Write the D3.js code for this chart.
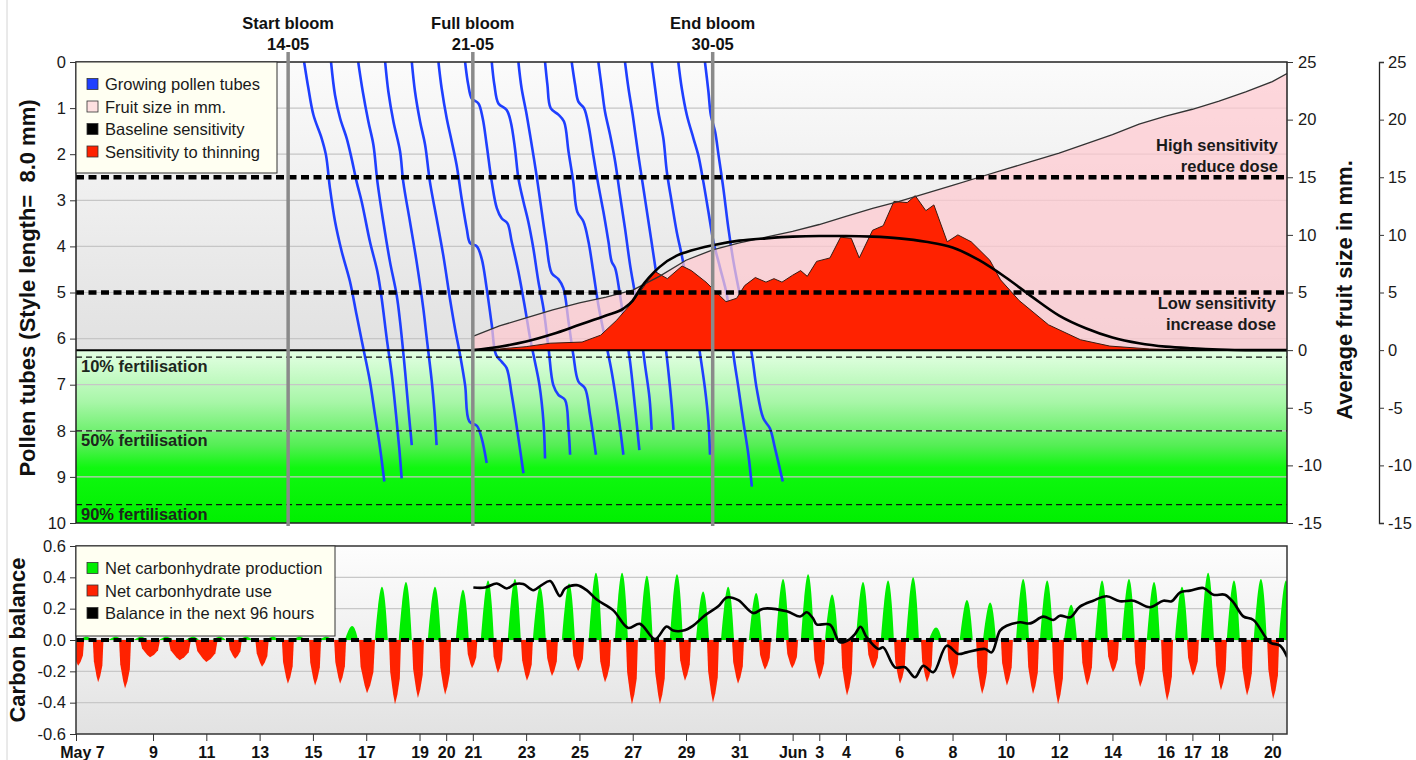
<!DOCTYPE html>
<html>
<head>
<meta charset="utf-8">
<script src="https://cdn.jsdelivr.net/npm/d3@7"></script>
<style>
  body { margin: 0; background: #fff; }
  svg { font-family: "Liberation Sans", Arial, sans-serif; }
</style>
</head>
<body>
<svg id="chart" width="1416" height="760"></svg>
<script>
// ---- data (days counted from May 0, June days continue at 32, 33 ...) ----
const xTickDays = [6.11, 9, 11, 13, 15, 17, 19, 20, 21, 23, 25, 27, 29, 31, 33, 34, 35, 37, 39, 41, 43, 45, 47, 48, 49, 51];
const xTickLabels = ["May 7", "9", "11", "13", "15", "17", "19", "20", "21", "23", "25", "27", "29", "31", "Jun", "3", "4", "6", "8", "10", "12", "14", "16", "17", "18", "20"];

const depthTicks = [0, 1, 2, 3, 4, 5, 6, 7, 8, 9, 10];
const fruitTicks = [-15, -10, -5, 0, 5, 10, 15, 20, 25];
const carbTicks = [-0.6, -0.4, -0.2, 0, 0.2, 0.4, 0.6];

const bloomNames = ["Start bloom", "Full bloom", "End bloom"];
const bloomDates = ["14-05", "21-05", "30-05"];
const bloomDays = [14.07, 21.0, 30.0];

const fertDepths = [6.4, 8.0, 9.6];
const fertLabels = ["10% fertilisation", "50% fertilisation", "90% fertilisation"];

const sensLimits = [15, 5];
const sensLabels = [["High sensitivity", "reduce dose"], ["Low sensitivity", "increase dose"]];

// growing pollen tubes: [day, depth in mm]
const pollenTubes = [
  [[14.67,0],[14.83,0.57],[15.02,1.15],[15.33,1.66],[15.49,2.02],[15.64,2.74],[15.83,3.46],[16.08,4.11],[16.39,4.76],[16.64,5.49],[16.89,6.21],[17.14,6.93],[17.33,7.66],[17.52,8.38],[17.68,9.10]],
  [[15.68,0],[15.83,0.72],[16.02,1.22],[16.27,1.66],[16.45,2.09],[16.64,2.60],[16.83,3.03],[17.14,3.90],[17.42,4.55],[17.58,5.13],[17.77,6.00],[17.96,6.79],[18.12,7.66],[18.24,8.38],[18.33,9.03]],
  [[16.70,0],[16.87,0.64],[17.08,1.29],[17.27,1.80],[17.42,2.60],[17.64,3.46],[17.89,4.33],[18.14,5.05],[18.27,5.63],[18.46,6.72],[18.58,7.51],[18.71,8.31]],
  [[17.71,0],[17.83,0.64],[18.02,1.29],[18.27,1.94],[18.39,2.60],[18.64,3.46],[18.89,4.33],[19.14,5.34],[19.27,5.99],[19.46,6.93],[19.56,7.58],[19.64,8.31]],
  [[18.71,0],[18.83,0.64],[19.02,1.29],[19.21,1.80],[19.39,2.60],[19.64,3.39],[19.89,4.19],[20.14,5.13],[20.33,5.78],[20.52,6.35],[20.71,7.01],[20.87,7.80],[21.15,7.89],[21.33,8.16],[21.52,8.70]],
  [[19.71,0],[19.83,0.57],[20.02,1.22],[20.21,1.73],[20.39,2.23],[20.58,2.96],[20.77,3.61],[20.90,3.93],[21.15,4.00],[21.33,4.26],[21.52,4.91],[21.71,5.70],[21.87,6.35],[22.08,6.50],[22.27,6.64],[22.46,7.22],[22.71,8.16],[22.90,8.92]],
  [[20.71,0],[20.83,0.50],[20.96,0.79],[21.21,0.90],[21.37,1.22],[21.52,1.80],[21.71,2.60],[21.90,3.17],[22.08,3.39],[22.30,3.50],[22.46,3.90],[22.71,4.55],[22.96,5.34],[23.15,5.99],[23.33,6.50],[23.50,7.01],[23.65,7.80],[23.71,8.60]],
  [[21.71,0],[21.81,0.50],[21.96,0.90],[22.27,1.04],[22.42,1.29],[22.58,1.87],[22.71,2.52],[22.90,3.03],[23.08,3.46],[23.27,4.04],[23.46,4.76],[23.65,5.34],[23.84,6.21],[24.02,7.01],[24.21,7.22],[24.46,7.33],[24.59,7.95],[24.65,8.52]],
  [[22.71,0],[22.83,0.57],[23.00,1.08],[23.17,1.66],[23.37,2.38],[23.55,3.10],[23.75,3.90],[23.96,4.58],[24.21,4.71],[24.40,4.91],[24.59,5.63],[24.77,6.35],[24.96,6.93],[25.21,7.08],[25.40,7.66],[25.62,8.52]],
  [[23.71,0],[23.80,0.50],[23.92,1.00],[24.21,1.14],[24.42,1.29],[24.59,1.94],[24.77,2.60],[24.92,3.25],[25.15,3.46],[25.34,3.90],[25.52,4.55],[25.71,5.27],[25.96,6.00],[26.21,6.72],[26.46,7.66],[26.65,8.52]],
  [[24.71,0],[24.84,0.50],[24.96,0.86],[25.17,1.00],[25.34,1.37],[25.52,2.02],[25.71,2.67],[25.90,3.25],[26.09,3.90],[26.21,4.33],[26.34,4.47],[26.52,5.05],[26.71,5.78],[26.90,6.50],[27.09,7.51],[27.25,8.42]],
  [[25.71,0],[25.84,0.57],[25.96,1.08],[26.15,1.58],[26.34,2.16],[26.52,2.88],[26.71,3.61],[26.90,4.40],[27.09,5.05],[27.28,5.78],[27.46,6.57],[27.63,7.29],[27.71,7.98]],
  [[26.71,0],[26.84,0.57],[27.00,1.15],[27.21,2.02],[27.40,2.74],[27.59,3.46],[27.78,4.19],[27.96,4.91],[28.15,5.78],[28.34,6.72],[28.46,7.44],[28.53,7.98]],
  [[27.71,0],[27.84,0.57],[27.96,1.08],[28.15,1.66],[28.28,2.38],[28.46,3.03],[28.65,3.68],[28.84,4.19],[29.03,4.76],[29.15,5.05],[29.34,5.63],[29.53,6.35],[29.71,7.08],[29.84,7.80],[29.90,8.52]],
  [[28.71,0],[28.84,0.57],[29.03,1.15],[29.28,1.66],[29.46,2.02],[29.65,2.60],[29.84,3.25],[30.03,3.90],[30.28,4.47],[30.53,5.05],[30.65,5.63],[30.78,6.35],[30.97,7.08],[31.15,7.80],[31.34,8.52],[31.47,9.21]],
  [[29.71,0],[29.84,0.64],[29.93,1.15],[30.09,1.51],[30.22,2.02],[30.40,2.74],[30.59,3.61],[30.78,4.33],[30.97,4.91],[31.22,5.63],[31.47,6.35],[31.65,7.08],[31.90,7.73],[32.15,7.95],[32.34,8.38],[32.63,9.10]]
];

// average fruit size in mm: [day, mm]
const fruitSize = [[21,1.2],[22,2.1],[23,2.8],[24,3.5],[25,4.1],[26,4.6],[27,5.2],[28,6.4],[29,7.8],[30,8.7],[31,9.3],[32,9.8],[33,10.3],[34,10.9],[35,11.6],[36,12.3],[37,12.9],[38,13.6],[39,14.3],[40,15.0],[41,15.7],[42,16.4],[43,17.1],[44,17.9],[45,18.7],[46,19.6],[47,20.3],[48,20.9],[49,21.6],[50,22.4],[51,23.3],[51.55,24.0]];

// baseline sensitivity (right axis scale)
const baseSens = [[21,0],[22,0.3],[23,0.75],[24,1.4],[25,2.2],[26,3.0],[26.65,3.6],[27,4.3],[27.3,5.4],[28,7.2],[28.65,8.2],[29,8.5],[30,9.1],[31,9.5],[32,9.7],[33,9.85],[34,9.9],[35,9.9],[36,9.85],[37,9.7],[38,9.4],[39,8.9],[40,7.8],[41,6.3],[42,4.6],[43,3.0],[44,1.9],[45,1.1],[46,0.6],[47,0.3],[48,0.15],[49,0.05],[50,0],[51.55,0]];

// sensitivity to thinning (right axis scale)
const thinSens = [[21,0],[22,0.1],[23,0.3],[23.9,0.6],[25.1,0.7],[25.8,1.3],[26.4,2.6],[27,4.2],[27.6,6.1],[27.85,6.8],[28.3,6.2],[28.85,7.3],[29.2,6.9],[29.75,5.9],[30.5,4.2],[30.9,4.5],[31.2,5.6],[31.6,6.3],[32.0,5.9],[32.3,6.2],[32.6,5.9],[33.0,6.5],[33.3,6.9],[33.55,6.4],[33.9,7.7],[34.4,8.0],[34.8,9.8],[35.2,9.7],[35.5,8.0],[36.0,10.4],[36.4,10.8],[36.8,12.9],[37.3,12.8],[37.6,13.4],[38.0,12.1],[38.3,12.6],[38.8,9.4],[39.2,10.0],[39.7,9.4],[40.4,7.8],[40.8,6.1],[41.5,4.3],[42.6,2.2],[43.8,0.9],[44.9,0.35],[46.4,0.1],[48.2,0],[51.55,0]];

// net carbohydrate production peaks: [day, value]
const greenPeaks = [[6.5,0.02],[7.6,0.02],[8.55,0.02],[9.5,0.02],[10.5,0.02],[11.5,0.02],[12.5,0.02],[13.5,0.02],[14.5,0.02],[15.5,0.02],[16.47,0.09],[17.59,0.34],[18.49,0.37],[19.58,0.34],[20.63,0.32],[21.57,0.38],[22.58,0.39],[23.52,0.34],[24.61,0.36],[25.62,0.43],[26.6,0.43],[27.53,0.41],[28.66,0.42],[29.64,0.31],[30.58,0.34],[31.63,0.30],[32.64,0.39],[33.58,0.42],[34.48,0.29],[35.64,0.37],[36.58,0.38],[37.52,0.40],[38.38,0.08],[39.54,0.255],[40.41,0.24],[41.65,0.39],[42.55,0.38],[43.45,0.225],[44.61,0.38],[45.62,0.39],[46.56,0.37],[47.61,0.34],[48.59,0.43],[49.56,0.38],[50.57,0.39],[51.51,0.38]];

// net carbohydrate use troughs: [day, value, width in days]
const redTroughs = [[6.19,-0.165,0.45],[6.94,-0.27,0.4],[7.95,-0.31,0.45],[8.89,-0.11,0.75],[10.0,-0.13,0.85],[11.0,-0.14,0.85],[12.08,-0.12,0.5],[13.09,-0.17,0.5],[14.06,-0.28,0.45],[15.08,-0.29,0.45],[16.02,-0.28,0.45],[17.03,-0.34,0.6],[18.08,-0.41,0.45],[18.94,-0.37,0.45],[19.96,-0.35,0.45],[20.97,-0.18,0.4],[21.94,-0.21,0.4],[23.03,-0.26,0.45],[23.97,-0.23,0.45],[24.95,-0.2,0.45],[25.96,-0.27,0.45],[26.97,-0.41,0.45],[28.02,-0.41,0.45],[28.96,-0.26,0.45],[30.01,-0.40,0.45],[30.95,-0.28,0.45],[31.96,-0.19,0.45],[32.98,-0.18,0.45],[34.0,-0.25,0.45],[35.04,-0.355,0.45],[36.02,-0.185,0.45],[37.03,-0.28,0.45],[38.04,-0.27,0.45],[39.02,-0.25,0.45],[40.11,-0.345,0.45],[41.04,-0.29,0.45],[42.02,-0.345,0.45],[42.96,-0.41,0.45],[44.05,-0.29,0.45],[45.02,-0.206,0.45],[46.04,-0.30,0.45],[47.05,-0.387,0.45],[48.02,-0.228,0.45],[49.07,-0.32,0.45],[50.05,-0.355,0.45],[51.03,-0.377,0.45]];

// balance in the next 96 hours
const balance = [[21.02,0.335],[21.46,0.335],[21.9,0.361],[22.27,0.329],[22.58,0.357],[22.89,0.357],[23.27,0.318],[23.58,0.35],[23.9,0.376],[24.27,0.28],[24.46,0.329],[24.9,0.35],[25.27,0.318],[25.65,0.258],[26.27,0.189],[26.83,0.077],[27.27,0.103],[27.84,0.006],[28.27,0.086],[28.52,0.06],[28.9,0.06],[29.27,0.092],[29.71,0.157],[30.21,0.215],[30.53,0.271],[30.96,0.254],[31.52,0.172],[31.9,0.2],[32.78,0.183],[33.28,0.15],[33.53,0.177],[33.78,0.134],[33.9,0.10],[34.4,0.098],[34.78,-0.015],[35.15,0.006],[35.34,0.038],[35.55,0.085],[35.78,0.017],[36.22,-0.057],[36.4,-0.047],[36.84,-0.174],[37.22,-0.174],[37.59,-0.238],[37.9,-0.164],[38.28,-0.206],[38.78,-0.036],[39.22,-0.089],[39.53,-0.079],[40.22,-0.057],[40.47,-0.079],[40.78,0.06],[41.03,0.091],[41.53,0.113],[41.91,0.106],[42.41,0.149],[42.78,0.128],[43.03,0.155],[43.41,0.145],[43.78,0.213],[44.28,0.251],[44.78,0.279],[45.28,0.247],[45.78,0.251],[46.41,0.209],[46.91,0.251],[47.22,0.247],[47.54,0.304],[47.91,0.315],[48.41,0.332],[48.79,0.289],[49.22,0.289],[49.54,0.24],[49.91,0.151],[50.29,0.128],[50.91,-0.015],[51.29,-0.036],[51.56,-0.11]];

const topLegend = [["Growing pollen tubes", "#1f3fff"], ["Fruit size in mm.", "#fde0e0"], ["Baseline sensitivity", "#000000"], ["Sensitivity to thinning", "#ff2200"]];
const bottomLegend = [["Net carbonhydrate production", "#00ee00"], ["Net carbonhydrate use", "#ff2200"], ["Balance in the next 96 hours", "#000000"]];

// ---- layout ----
const plotLeft = 76, plotRight = 1287;
const svg = d3.select("#chart");
const defs = svg.append("defs");

const x = d3.scaleLinear().domain([6.11, 51.55]).range([plotLeft, plotRight]);
const yDepth = d3.scaleLinear().domain([0, 10]).range([62, 523]);
const yFruit = d3.scaleLinear().domain([-15, 25]).range([523, 62]);
const yCarb = d3.scaleLinear().domain([-0.6, 0.6]).range([734, 546]);

function vGradient(id, y1, y2, stops) {
  const g = defs.append("linearGradient").attr("id", id)
    .attr("gradientUnits", "userSpaceOnUse")
    .attr("x1", 0).attr("x2", 0).attr("y1", y1).attr("y2", y2);
  stops.forEach(s => g.append("stop").attr("offset", s[0]).attr("stop-color", s[1]));
}
vGradient("grayTop", yDepth(0), yFruit(0), [[0, "#fbfbfb"], [1, "#e1e1e1"]]);
vGradient("greenLow", yFruit(0), yDepth(10), [[0, "#e4ffe4"], [0.3, "#a8f6a8"], [0.55, "#55ee55"], [0.68, "#10f810"], [1, "#00f000"]]);
vGradient("grayCarb", yCarb(0.6), yCarb(-0.6), [[0, "#fdfdfd"], [1, "#e2e2e2"]]);

defs.append("clipPath").attr("id", "clipTop").append("rect")
  .attr("x", plotLeft).attr("y", yDepth(0)).attr("width", plotRight - plotLeft).attr("height", yDepth(10) - yDepth(0));
defs.append("clipPath").attr("id", "clipBot").append("rect")
  .attr("x", plotLeft).attr("y", yCarb(0.6)).attr("width", plotRight - plotLeft).attr("height", yCarb(-0.6) - yCarb(0.6));

// faint frame line at the far left
svg.append("line").attr("x1", 7).attr("x2", 7).attr("y1", 0).attr("y2", 760)
  .attr("stroke", "#d4d4d4").attr("stroke-width", 1);

// ================= top panel =================
const topPanel = svg.append("g").attr("clip-path", "url(#clipTop)");

topPanel.append("rect").attr("x", plotLeft).attr("y", yDepth(0))
  .attr("width", plotRight - plotLeft).attr("height", yFruit(0) - yDepth(0)).attr("fill", "url(#grayTop)");
topPanel.append("rect").attr("x", plotLeft).attr("y", yFruit(0))
  .attr("width", plotRight - plotLeft).attr("height", yDepth(10) - yFruit(0)).attr("fill", "url(#greenLow)");

// grid
topPanel.selectAll(".grid").data(depthTicks.slice(1, -1)).enter().append("line")
  .attr("x1", plotLeft).attr("x2", plotRight)
  .attr("y1", d => yDepth(d)).attr("y2", d => yDepth(d))
  .attr("stroke", "#c6c6c6").attr("stroke-width", 1.2);

// pollen tubes
const tubeLine = d3.line().x(d => x(d[0])).y(d => yDepth(d[1])).curve(d3.curveCatmullRom.alpha(0.5));
topPanel.selectAll(".tube").data(pollenTubes).enter().append("path")
  .attr("d", tubeLine).attr("fill", "none")
  .attr("stroke", "#1f3fff").attr("stroke-width", 2.6);

// fruit size area
const fruitArea = d3.area().x(d => x(d[0])).y0(yFruit(0)).y1(d => yFruit(d[1]));
topPanel.append("path").datum(fruitSize).attr("d", fruitArea)
  .attr("fill", "#ffc9d0").attr("fill-opacity", 0.72);

// sensitivity to thinning
topPanel.append("path").datum(thinSens).attr("d", fruitArea).attr("fill", "#ff2200");
const fLine = d3.line().x(d => x(d[0])).y(d => yFruit(d[1]));
topPanel.append("path").datum(thinSens).attr("d", fLine)
  .attr("fill", "none").attr("stroke", "#3a1a10").attr("stroke-width", 1);

// fruit size line
topPanel.append("path").datum(fruitSize).attr("d", fLine)
  .attr("fill", "none").attr("stroke", "#333").attr("stroke-width", 1.3);

// baseline sensitivity
topPanel.append("path").datum(baseSens).attr("d", d3.line().x(d => x(d[0])).y(d => yFruit(d[1])).curve(d3.curveMonotoneX))
  .attr("fill", "none").attr("stroke", "#000").attr("stroke-width", 2.6);

// sensitivity limits (thick dashed)
topPanel.selectAll(".limit").data(sensLimits).enter().append("line")
  .attr("x1", plotLeft).attr("x2", plotRight)
  .attr("y1", d => yFruit(d)).attr("y2", d => yFruit(d))
  .attr("stroke", "#000").attr("stroke-width", 4.5).attr("stroke-dasharray", "8,4.5");

// zero line of fruit scale
topPanel.append("line").attr("x1", plotLeft).attr("x2", plotRight)
  .attr("y1", yFruit(0)).attr("y2", yFruit(0))
  .attr("stroke", "#000").attr("stroke-width", 2);

// fertilisation levels
topPanel.selectAll(".fert").data(fertDepths).enter().append("line")
  .attr("x1", plotLeft).attr("x2", plotRight)
  .attr("y1", d => yDepth(d)).attr("y2", d => yDepth(d))
  .attr("stroke", "#111").attr("stroke-width", 1.3).attr("stroke-dasharray", "6,4");
topPanel.selectAll(".fertLabel").data(fertLabels).enter().append("text")
  .attr("x", plotLeft + 5).attr("y", (d, i) => yDepth(fertDepths[i]) + 15)
  .attr("font-size", 16.5).attr("font-weight", "bold").attr("fill", "#1c261c")
  .text(d => d);

// sensitivity texts
sensLabels.forEach((pair, i) => {
  const base = i === 0 ? yFruit(sensLimits[i]) - 26 : yFruit(sensLimits[i]) + 16;
  const xr = i === 0 ? plotRight - 9 : plotRight - 11;
  pair.forEach((t, j) => {
    svg.append("text").attr("x", xr).attr("y", base + j * 21)
      .attr("text-anchor", "end").attr("font-size", 16.5).attr("font-weight", "bold")
      .attr("fill", "#1a1a1a").text(t);
  });
});

// panel border
svg.append("rect").attr("x", plotLeft).attr("y", yDepth(0))
  .attr("width", plotRight - plotLeft).attr("height", yDepth(10) - yDepth(0))
  .attr("fill", "none").attr("stroke", "#222").attr("stroke-width", 1.5);

// bloom markers
svg.selectAll(".bloom").data(bloomDays).enter().append("line")
  .attr("x1", d => x(d)).attr("x2", d => x(d))
  .attr("y1", 52).attr("y2", yDepth(10) + 3)
  .attr("stroke", "#8a8a8a").attr("stroke-width", 3.5);
svg.selectAll(".bloomName").data(bloomNames).enter().append("text")
  .attr("x", (d, i) => x(bloomDays[i])).attr("y", 29)
  .attr("text-anchor", "middle").attr("font-size", 16.5).attr("font-weight", "bold")
  .attr("fill", "#111").text(d => d);
svg.selectAll(".bloomDate").data(bloomDates).enter().append("text")
  .attr("x", (d, i) => x(bloomDays[i])).attr("y", 50)
  .attr("text-anchor", "middle").attr("font-size", 16.5).attr("font-weight", "bold")
  .attr("fill", "#111").text(d => d);

// axes of top panel
const styleAxis = g => {
  g.selectAll("text").attr("font-size", 16.5).attr("fill", "#1a1a1a")
    .attr("font-family", "'Liberation Sans', Arial, sans-serif");
  g.selectAll("line").attr("stroke", "#333");
};
svg.append("g").attr("transform", `translate(${plotLeft},0)`)
  .call(d3.axisLeft(yDepth).tickValues(depthTicks).tickSize(6).tickPadding(4).tickFormat(d => String(d)))
  .call(g => g.select(".domain").remove()).call(styleAxis);
svg.append("g").attr("transform", `translate(${plotRight},0)`)
  .call(d3.axisRight(yFruit).tickValues(fruitTicks).tickSize(6).tickPadding(5).tickFormat(d => String(d)))
  .call(g => g.select(".domain").remove()).call(styleAxis);
svg.append("g").attr("transform", "translate(1379,0)")
  .call(d3.axisRight(yFruit).tickValues(fruitTicks).tickSize(5).tickPadding(4).tickSizeOuter(5).tickFormat(d => String(d)))
  .call(g => g.select(".domain").attr("stroke", "#222").attr("stroke-width", 1.3)).call(styleAxis);

svg.append("text").attr("transform", "translate(35,288) rotate(-90)")
  .attr("text-anchor", "middle").attr("font-size", 22).attr("font-weight", "bold")
  .attr("fill", "#111").style("white-space", "pre")
  .text("Pollen tubes (Style length=  8.0 mm)");
svg.append("text").attr("transform", "translate(1352,290) rotate(-90)")
  .attr("text-anchor", "middle").attr("font-size", 22).attr("font-weight", "bold")
  .attr("fill", "#111").text("Average fruit size in mm.");

// legend top
const lg1 = svg.append("g");
lg1.append("rect").attr("x", plotLeft).attr("y", 62).attr("width", 201).attr("height", 111)
  .attr("fill", "#fffff2").attr("stroke", "#333").attr("stroke-width", 1);
topLegend.forEach((d, i) => {
  const cy = 84 + i * 22.5;
  lg1.append("rect").attr("x", 87).attr("y", cy - 5.5).attr("width", 11).attr("height", 11)
    .attr("fill", d[1]).attr("stroke", "#333").attr("stroke-width", 0.8);
  lg1.append("text").attr("x", 105).attr("y", cy + 6).attr("font-size", 16.5)
    .attr("fill", "#1a1a1a").text(d[0]);
});

// ================= bottom panel =================
const botPanel = svg.append("g").attr("clip-path", "url(#clipBot)");
botPanel.append("rect").attr("x", plotLeft).attr("y", yCarb(0.6))
  .attr("width", plotRight - plotLeft).attr("height", yCarb(-0.6) - yCarb(0.6)).attr("fill", "url(#grayCarb)");
botPanel.selectAll(".cgrid").data(carbTicks.slice(1, -1)).enter().append("line")
  .attr("x1", plotLeft).attr("x2", plotRight)
  .attr("y1", d => yCarb(d)).attr("y2", d => yCarb(d))
  .attr("stroke", "#c8c8c8").attr("stroke-width", 1.2);

// each production peak drawn as a rounded spike around its day
const spike = d3.area().x(d => x(d[0])).y0(yCarb(0)).y1(d => yCarb(d[1])).curve(d3.curveMonotoneX);
botPanel.selectAll(".green").data(greenPeaks).enter().append("path")
  .attr("d", p => spike([[p[0] - 0.27, 0], [p[0] - 0.15, p[1] * 0.62], [p[0] - 0.06, p[1] * 0.93], [p[0], p[1]],
                        [p[0] + 0.06, p[1] * 0.93], [p[0] + 0.14, p[1] * 0.6], [p[0] + 0.22, 0]]))
  .attr("fill", "#00ee00");
// each use trough drawn as a jagged dip around its night
const dip = d3.area().x(d => x(d[0])).y0(yCarb(0)).y1(d => yCarb(d[1]));
botPanel.selectAll(".red").data(redTroughs).enter().append("path")
  .attr("d", p => dip([[p[0] - p[2] * 0.5, 0], [p[0] - p[2] * 0.4, p[1] * 0.5], [p[0] - p[2] * 0.15, p[1] * 0.85], [p[0], p[1]],
                      [p[0] + p[2] * 0.2, p[1] * 0.85], [p[0] + p[2] * 0.4, p[1] * 0.6], [p[0] + p[2] * 0.5, 0]]))
  .attr("fill", "#ff2200");

botPanel.append("line").attr("x1", plotLeft).attr("x2", plotRight)
  .attr("y1", yCarb(0)).attr("y2", yCarb(0))
  .attr("stroke", "#000").attr("stroke-width", 4).attr("stroke-dasharray", "8,4.5");

botPanel.append("path").datum(balance)
  .attr("d", d3.line().x(d => x(d[0])).y(d => yCarb(d[1])).curve(d3.curveCatmullRom.alpha(0.5)))
  .attr("fill", "none").attr("stroke", "#000").attr("stroke-width", 2.6);

svg.append("rect").attr("x", plotLeft).attr("y", yCarb(0.6))
  .attr("width", plotRight - plotLeft).attr("height", yCarb(-0.6) - yCarb(0.6))
  .attr("fill", "none").attr("stroke", "#333").attr("stroke-width", 1.5);

svg.append("g").attr("transform", `translate(${plotLeft},0)`)
  .call(d3.axisLeft(yCarb).tickValues(carbTicks).tickSize(6).tickPadding(4).tickFormat(d => d.toFixed(1)))
  .call(g => g.select(".domain").remove()).call(styleAxis);

// x axis
svg.append("g").attr("transform", `translate(0,${yCarb(-0.6)})`)
  .call(d3.axisBottom(x).tickValues(xTickDays).tickSize(7).tickPadding(6).tickFormat((d, i) => xTickLabels[i]))
  .call(g => g.select(".domain").remove()).call(styleAxis)
  .call(g => g.selectAll("text").attr("font-weight", "bold").attr("font-size", 16).attr("fill", "#111"))
  .call(g => g.selectAll(".tick").filter((d, i) => i === 0).select("text").attr("dx", 6));

svg.append("text").attr("transform", "translate(25,640) rotate(-90)")
  .attr("text-anchor", "middle").attr("font-size", 22).attr("font-weight", "bold")
  .attr("fill", "#111").text("Carbon balance");

// legend bottom
const lg2 = svg.append("g");
lg2.append("rect").attr("x", plotLeft).attr("y", 546).attr("width", 259).attr("height", 90)
  .attr("fill", "#fffff2").attr("stroke", "#333").attr("stroke-width", 1);
bottomLegend.forEach((d, i) => {
  const cy = 568 + i * 22.5;
  lg2.append("rect").attr("x", 87).attr("y", cy - 5.5).attr("width", 11).attr("height", 11)
    .attr("fill", d[1]).attr("stroke", "#333").attr("stroke-width", 0.8);
  lg2.append("text").attr("x", 105).attr("y", cy + 6).attr("font-size", 16.5)
    .attr("fill", "#1a1a1a").text(d[0]);
});
</script>
</body>
</html>
